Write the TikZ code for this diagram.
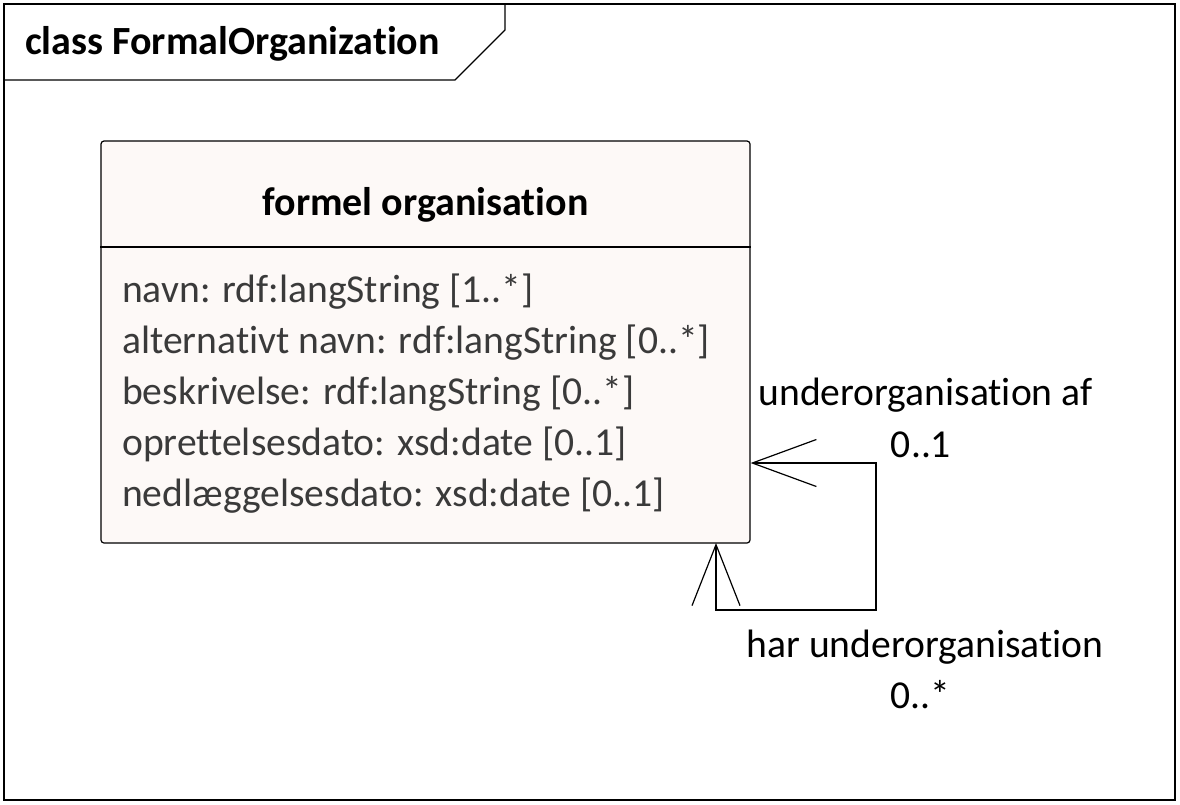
\documentclass[tikz,border=0pt]{standalone}
\usepackage{fontspec}
\setmainfont{Carlito}[Ligatures=NoCommon]
\usetikzlibrary{arrows.meta, positioning}
\definecolor{umlfill}{RGB}{253,249,247}
\definecolor{attrgray}{RGB}{58,58,58}

\begin{document}
\begin{tikzpicture}[
    x=1pt, y=-1pt,
    frame/.style  = {draw=black, line width=1.2pt},
    umlclass/.style = {rectangle, rounded corners=3pt, draw=black,
                     line width=1.2pt, fill=umlfill, inner sep=0pt,
                     minimum width=649pt, minimum height=402pt},
    attr/.style   = {anchor=base west, inner sep=0pt, text=attrgray,
                     font=\fontsize{39.6}{47}\selectfont},
    role/.style   = {anchor=base, inner sep=0pt,
                     font=\fontsize{39.6}{47}\selectfont},
    assoc/.style  = {{Straight Barb[length=64pt, width=47pt]}-{Straight Barb[length=61pt, width=48pt]},
                     line width=1.2pt, line join=miter},
]
\useasboundingbox (0,0) rectangle (1180,804);

% frame and its name tab
\draw[frame] (4,4) rectangle (1175,800);
\draw[frame] (4,80) -- (455,80) -- (505,30) -- (505,4);
\node[anchor=base west, inner sep=0pt, font=\fontsize{40}{47}\selectfont\bfseries]
    (frm) at (25,54) {class FormalOrganization};

% the class
\node[umlclass] (cls) at (425.5,342) {};
\draw[line width=1.2pt] (cls.west |- 0,247) -- (cls.east |- 0,247);
\node[role, font=\fontsize{40}{47}\selectfont\bfseries] (nm) at (425.5,215) {formel organisation};
\node[attr] (a1) at (122,302) {navn: rdf:langString [1..*]};
\node[attr] (a2) at (122,353) {alternativt navn: rdf:langString [0..*]};
\node[attr] (a3) at (122,404) {beskrivelse: rdf:langString [0..*]};
\node[attr] (a4) at (122,455) {oprettelsesdato: xsd:date [0..1]};
\node[attr] (a5) at (122,506) {nedlæggelsesdato: xsd:date [0..1]};

% self association
\coordinate (pa) at (cls.east |- 0,463);
\coordinate (pb) at (716,543);
\coordinate (ca) at (876,463);
\coordinate (cb) at (876,610);
\coordinate (cc) at (716,610);
\draw[assoc] (pa) -- (ca) -- (cb) -- (cc) -- (pb);

\node[role] (r1)  at (925.5,405) {underorganisation af};
\node[role] (m1)  at (921,457)   {0..1};
\node[role] (r2)  at (925,657)   {har underorganisation};
\node[role] (m2)  at (920,708)   {0..*};
\end{tikzpicture}
\end{document}
